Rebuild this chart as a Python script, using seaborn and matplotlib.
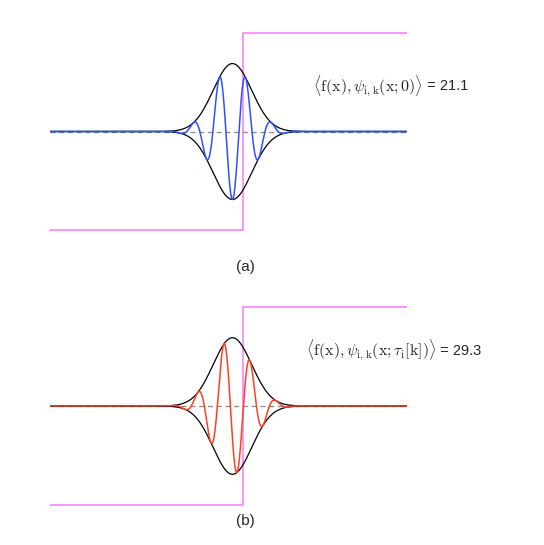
import numpy as np
import matplotlib
matplotlib.use("Agg")
import matplotlib.pyplot as plt
import seaborn as sns

sns.set_style("white")
plt.rcParams['mathtext.fontset'] = 'cm'
plt.rcParams['font.family'] = ['Liberation Sans', 'DejaVu Sans']

# step signal f(x)
step_x = [0.0, 0.54, 0.54, 1.0]
step_y = [-1.0, -1.0, 1.0, 1.0]

# gabor wavelet parameters
center = 0.511
sigma = 0.054
period = 0.073
amp = 0.69
phases = [0.0, 1.08]          # (a) tau = 0, (b) tau_i[k]
wave_colors = ["#3050ff", "#ff4020"]
panel_labels = ["(a)", "(b)"]
inner_products = [21.1, 29.3]
ip_texts = [
    r"$\langle \mathrm{f(x)},\psi_{\mathrm{i,k}}(\mathrm{x};\mathsf{0})\rangle$",
    r"$\langle \mathrm{f(x)},\psi_{\mathrm{i,k}}(\mathrm{x};\tau_{\mathrm{i}}[\mathrm{k}])\rangle$",
]

x = np.linspace(0, 1, 2000)
env = amp * np.exp(-(x - center) ** 2 / (2 * sigma ** 2))

W, H = 544, 545
fig = plt.figure(figsize=(W / 100, H / 100), dpi=100)

# pixel layout: (left, right, step top, step bottom)
boxes = [(50, 407, 33, 230), (50, 407, 307, 505)]
text_pos = [(0.737, 0.46), (0.717, 0.56)]
label_pos = [(245, 267), (245, 521)]
pad = 1.1

for i, (l, r, t, b) in enumerate(boxes):
    half = (b - t) / 2 * pad
    mid = (t + b) / 2
    ax = fig.add_axes([l / W, 1 - (mid + half) / H, (r - l) / W, 2 * half / H])
    ax.set_xlim(0, 1)
    ax.set_ylim(-pad, pad)
    ax.axis("off")

    sns.lineplot(x=step_x, y=step_y, ax=ax, color="#ff80ff", lw=1.2,
                 sort=False, estimator=None)
    ax.axhline(0, color="#888888", lw=0.9, ls=(0, (4, 3)))
    sns.lineplot(x=x, y=env, ax=ax, color="black", lw=0.9, estimator=None)
    sns.lineplot(x=x, y=-env, ax=ax, color="black", lw=0.9, estimator=None)
    wave = -env * np.cos(2 * np.pi * (x - center) / period - phases[i])
    sns.lineplot(x=x, y=wave, ax=ax, color=wave_colors[i], lw=1.1, estimator=None)

    t1 = ax.text(text_pos[i][0], text_pos[i][1], ip_texts[i],
                 fontsize=11.5, va="center", ha="left")
    ax.annotate(" = %.1f" % inner_products[i], xy=(1, 0.5), xycoords=t1,
                fontsize=10.5, va="center", ha="left")
    fig.text(label_pos[i][0] / W, 1 - label_pos[i][1] / H, panel_labels[i],
             fontsize=11, ha="center", va="center")

fig.savefig("out.png", dpi=100)
